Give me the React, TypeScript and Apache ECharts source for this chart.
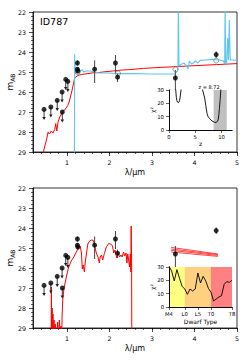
import React, { useEffect, useRef } from 'react';
import * as echarts from 'echarts';

// Photometry (shared by both panels)
const photLam = [0.46, 0.62, 0.77, 0.885, 0.89, 0.97, 1.02, 1.245, 1.245, 1.255, 1.65, 2.14, 2.19, 3.55, 4.51];
const photMag = [26.87, 26.75, 26.42, 26.0, 27.0, 25.37, 25.47, 24.55, 24.86, 24.95, 24.86, 24.55, 25.26, 25.3, 24.13];
const photBright = [0, 0, 0, 0, 0, 0, 0, 24.42, 24.76, 24.85, 24.42, 24.15, 25.08, 24.9, 23.97];
const photFaint = [0, 0, 0, 0, 0, 0, 0, 24.68, 24.96, 25.05, 25.55, 25.05, 25.5, 26.6, 24.3];
const photLimit = [1, 1, 1, 1, 1, 1, 1, 0, 0, 0, 0, 0, 0, 0, 0];

// Model photometry (open circles, top panel)
const modelLam = [1.25, 2.2, 3.55, 4.51];
const modelMag = [25.0, 25.07, 24.87, 24.43];

// Low-z galaxy SED (red, top)
const redLam = [0.44, 0.454, 0.517, 0.555, 0.59, 0.63, 0.67, 0.71, 0.735, 0.76, 0.79, 0.83, 0.87, 0.906, 0.946, 1.02, 1.05, 1.08, 1.12, 1.15, 1.18, 1.26, 1.35, 1.49, 1.65, 1.72, 1.84, 2.07, 2.3, 2.47, 2.8, 3.19, 3.5, 3.66, 4.13, 4.52, 5.0];
const redMag = [29.3, 28.9, 28.4, 28.0, 28.1, 27.95, 28.05, 27.88, 27.58, 27.95, 27.5, 27.25, 27.1, 26.95, 26.9, 26.67, 26.5, 26.25, 25.9, 25.6, 25.3, 25.17, 25.12, 25.08, 25.03, 25.04, 25.0, 24.95, 24.9, 24.88, 24.82, 24.77, 24.74, 24.72, 24.67, 24.63, 24.58];

// Best-fit z=8.72 SED (blue, top)
const blueLam = [1.175, 1.18, 1.19, 1.2, 1.22, 1.26, 1.31, 1.36, 1.39, 1.45, 1.55, 1.65, 1.78, 2.0, 2.17, 2.56, 2.95, 3.3, 3.54, 3.58, 3.61, 3.62, 3.635, 3.7, 3.75, 3.8, 3.85, 3.88, 3.93, 3.97, 4.02, 4.08, 4.13, 4.25, 4.44, 4.6, 4.68, 4.71, 4.72, 4.735, 4.76, 4.78, 4.8, 4.82, 4.84, 4.9, 5.0];
const blueMag = [29.5, 24.1, 24.1, 25.1, 25.0, 24.88, 24.95, 24.88, 25.0, 24.95, 24.95, 25.0, 25.05, 25.05, 25.08, 25.08, 25.1, 25.1, 25.1, 25.0, 24.9, 21.5, 24.7, 24.6, 24.55, 24.65, 24.85, 24.45, 24.6, 24.55, 24.45, 24.55, 24.42, 24.4, 24.37, 24.4, 24.45, 24.6, 21.5, 24.6, 24.5, 23.3, 24.4, 22.4, 24.4, 24.4, 24.42];

// Top inset chi^2 vs z
const chiZA = [1.25, 1.3, 1.4, 1.5, 1.6, 1.75, 1.9, 2.0, 2.1, 2.2, 2.3, 2.35];
const chiVA = [34, 29, 24.5, 22, 21, 20.5, 21, 22, 24, 27, 30.5, 34];
const chiZB = [6.3, 6.4, 6.6, 6.8, 7.0, 7.24, 7.45, 7.7, 8.2, 8.7, 9.0, 9.2, 9.36, 9.5, 9.6, 9.75, 9.87, 9.95];
const chiVB = [33, 30, 27, 24, 18.5, 12.5, 10, 8.75, 6.75, 5.75, 5.75, 6.3, 7.5, 11.5, 16, 23, 30, 34];
const zShade = [8.5, 11.0];
const zTicks = [0, 5, 10];

// Brown dwarf template (red, bottom)
const bdLam = [0.628, 0.632, 0.637, 0.642, 0.65, 0.66, 0.67, 0.68, 0.695, 0.71, 0.725, 0.74, 0.76, 0.78, 0.8, 0.82, 0.84, 0.86, 0.875, 0.885, 0.9, 0.93, 0.96, 1.0, 1.04, 1.1, 1.16, 1.22, 1.27, 1.31, 1.34, 1.36, 1.38, 1.41, 1.43, 1.45, 1.49, 1.52, 1.57, 1.62, 1.65, 1.69, 1.73, 1.76, 1.78, 1.81, 1.84, 1.88, 1.93, 1.98, 2.03, 2.07, 2.1, 2.13, 2.17, 2.2, 2.24, 2.27, 2.3, 2.33, 2.36, 2.39, 2.41, 2.43, 2.45, 2.47, 2.49, 2.5, 2.51, 2.52, 2.525];
const bdMag = [29.5, 26.95, 28.4, 29.5, 28.0, 29.5, 28.3, 29.5, 28.6, 29.5, 28.8, 29.5, 29.5, 28.7, 29.5, 28.6, 29.5, 28.9, 29.5, 28.4, 27.6, 27.0, 26.7, 26.3, 25.95, 25.65, 25.45, 25.2, 25.0, 24.9, 25.25, 26.05, 25.85, 26.2, 25.7, 25.4, 24.8, 24.68, 24.6, 24.62, 24.9, 25.25, 25.45, 25.75, 25.45, 25.35, 25.6, 25.27, 24.93, 24.78, 24.8, 24.9, 25.25, 25.1, 25.5, 25.25, 25.45, 25.35, 25.45, 25.2, 25.4, 25.25, 25.75, 25.3, 25.6, 25.95, 25.3, 26.2, 23.9, 25.5, 29.5];

// Brown dwarf IRAC model lines (bottom)
const fanLam = [3.45, 4.55];
const fanMags = [[24.97, 25.3], [25.05, 25.33], [25.12, 25.37], [25.2, 25.42]];

// Bottom inset chi^2 vs dwarf type
const dwarfIdx = [0, 1, 2, 3, 4, 5, 6, 7, 8, 9, 10, 11, 12, 13, 14, 15, 16, 17, 18, 19, 20, 21, 22, 23, 24];
const dwarfChi = [30.5, 27, 19.5, 28, 21.5, 15.5, 13.5, 9.5, 13.5, 12, 13.5, 25.5, 18, 23, 19.5, 14, 11, 4.5, 6, 7.5, 8.5, 17, 19, 18.5, 20];
const dwarfBands = [[0, 6], [6, 16], [16, 24]];
const dwarfTickIdx = [0, 6, 11, 16, 24];
const dwarfTickLabels = ['M4', 'L0', 'L5', 'T0', 'T8'];

const xMajor = [1, 2, 3, 4, 5];

const FONT = 'DejaVu Sans';
const BLACK = '#000';
const bandColors = ['#ffff80', '#ffd080', '#ff8080'];

function mainX(gridIndex: number) {
  return [
    {
      gridIndex, type: 'value', min: 0.2, max: 5, interval: 0.2,
      axisLine: { show: true, lineStyle: { color: BLACK, width: 0.8 } },
      axisTick: { show: true, length: 2, lineStyle: { color: BLACK, width: 0.6 } },
      axisLabel: { show: true, customValues: xMajor, margin: 7, fontSize: 6.3, color: BLACK, fontFamily: FONT },
      splitLine: { show: false },
      name: 'λ/μm', nameLocation: 'middle', nameGap: 16, nameMoveOverlap: false,
      nameTextStyle: { fontSize: 8, color: BLACK, fontFamily: FONT },
    },
    {
      gridIndex, type: 'value', min: 0.2, max: 5, position: 'bottom',
      axisLine: { show: false },
      axisTick: { show: true, customValues: xMajor, length: 4, lineStyle: { color: BLACK, width: 0.7 } },
      axisLabel: { show: false },
      splitLine: { show: false },
    },
  ];
}

function mainY(gridIndex: number) {
  return {
    gridIndex, type: 'value', min: 22, max: 29, interval: 1, inverse: true,
    axisLine: { show: true, lineStyle: { color: BLACK, width: 0.8 } },
    axisTick: { show: true, length: 4, lineStyle: { color: BLACK, width: 0.7 } },
    minorTick: { show: true, splitNumber: 5, length: 2, lineStyle: { color: BLACK, width: 0.6 } },
    axisLabel: { margin: 7, fontSize: 6.3, color: BLACK, fontFamily: FONT },
    splitLine: { show: false }, minorSplitLine: { show: false },
    name: '{a|m}{b|AB}', nameLocation: 'middle', nameGap: 18, nameRotate: 90, nameMoveOverlap: false,
    nameTextStyle: {
      rich: {
        a: { fontSize: 9, color: BLACK, fontFamily: FONT },
        b: { fontSize: 6, color: BLACK, fontFamily: FONT, verticalAlign: 'bottom', padding: [4, 0, 0, 0] },
      },
    },
  };
}

function insetX(gridIndex: number, extra: any) {
  return {
    gridIndex, type: 'value', z: 12,
    axisLine: { show: true, lineStyle: { color: BLACK, width: 0.8 } },
    axisTick: { show: true, length: 3, lineStyle: { color: BLACK, width: 0.6 } },
    axisLabel: { margin: 4, fontSize: 5.3, color: BLACK, fontFamily: FONT },
    splitLine: { show: false },
    nameLocation: 'middle', nameGap: 10.5, nameMoveOverlap: false,
    nameTextStyle: { fontSize: 6, color: BLACK, fontFamily: FONT },
    ...extra,
  };
}

function borderAxis(gridIndex: number, position: string, min: number, max: number) {
  return {
    gridIndex, type: 'value', position, min, max, z: 12,
    axisLine: { show: true, lineStyle: { color: BLACK, width: 0.8 } },
    axisTick: { show: false }, axisLabel: { show: false }, splitLine: { show: false },
  };
}

function insetY(gridIndex: number) {
  return {
    gridIndex, type: 'value', min: 0, max: 30, interval: 10, z: 12,
    axisLine: { show: true, lineStyle: { color: BLACK, width: 0.8 } },
    axisTick: { show: true, length: 3, lineStyle: { color: BLACK, width: 0.6 } },
    axisLabel: { margin: 5, fontSize: 5.3, color: BLACK, fontFamily: FONT },
    splitLine: { show: false },
    name: 'χ²', nameLocation: 'middle', nameGap: 14, nameRotate: 90, nameMoveOverlap: false,
    nameTextStyle: { fontSize: 6, color: BLACK, fontFamily: FONT },
  };
}

function errRender(params: any, api: any) {
  const x = api.value(0), y = api.value(1), lo = api.value(2), hi = api.value(3), lim = api.value(4);
  const p = api.coord([x, y]);
  if (lim) {
    const tip = p[1] + 10.5;
    return {
      type: 'group',
      children: [
        { type: 'line', shape: { x1: p[0], y1: p[1], x2: p[0], y2: tip - 1.5 }, style: { stroke: '#222', lineWidth: 0.9 } },
        { type: 'polygon', shape: { points: [[p[0] - 1.7, tip - 3], [p[0] + 1.7, tip - 3], [p[0], tip]] }, style: { fill: '#222' } },
      ],
    };
  }
  const a = api.coord([x, lo]);
  const b = api.coord([x, hi]);
  return { type: 'line', shape: { x1: a[0], y1: a[1], x2: b[0], y2: b[1] }, style: { stroke: '#444', lineWidth: 1 } };
}

function bandRender(ymin: number, ymax: number, colors: string[]) {
  return (params: any, api: any) => {
    const p0 = api.coord([api.value(0), ymax]);
    const p1 = api.coord([api.value(1), ymin]);
    return {
      type: 'rect',
      shape: { x: p0[0], y: p0[1], width: p1[0] - p0[0], height: p1[1] - p0[1] },
      style: { fill: colors[params.dataIndex % colors.length] },
    };
  };
}

const zip = (a: number[], b: number[]) => a.map((v, i) => [v, b[i]]);
const errData = photLam.map((l, i) => [l, photMag[i], photBright[i], photFaint[i], photLimit[i]]);

function buildOption() {
  const series: any[] = [];
  // ---- top main ----
  series.push({ type: 'line', xAxisIndex: 0, yAxisIndex: 0, data: zip(redLam, redMag), showSymbol: false, symbol: 'none', lineStyle: { color: '#ff0000', width: 1 }, z: 2 });
  series.push({ type: 'line', xAxisIndex: 0, yAxisIndex: 0, data: zip(blueLam, blueMag), showSymbol: false, symbol: 'none', lineStyle: { color: '#5cc8f2', width: 1.1 }, z: 3 });
  series.push({ type: 'custom', xAxisIndex: 0, yAxisIndex: 0, data: errData, renderItem: errRender, encode: { x: 0, y: 1 }, clip: false, z: 4 });
  series.push({ type: 'scatter', xAxisIndex: 0, yAxisIndex: 0, data: zip(modelLam, modelMag), symbol: 'circle', symbolSize: 5, itemStyle: { color: 'rgba(255,255,255,0)', borderColor: '#777', borderWidth: 0.9 }, z: 4 });
  series.push({ type: 'scatter', xAxisIndex: 0, yAxisIndex: 0, data: zip(photLam, photMag), symbol: 'circle', symbolSize: 5, itemStyle: { color: '#000' }, z: 5 });
  // ---- top inset ----
  series.push({ type: 'custom', xAxisIndex: 2, yAxisIndex: 1, data: [zShade], renderItem: bandRender(0, 30, ['#c0c0c0']), encode: { x: [0, 1] }, z: 11 });
  series.push({ type: 'line', xAxisIndex: 2, yAxisIndex: 1, data: zip(chiZA, chiVA), symbol: 'none', lineStyle: { color: '#000', width: 0.9 }, z: 13 });
  series.push({ type: 'line', xAxisIndex: 2, yAxisIndex: 1, data: zip(chiZB, chiVB), symbol: 'none', lineStyle: { color: '#000', width: 0.9 }, z: 13 });
  // ---- bottom main ----
  series.push({ type: 'line', xAxisIndex: 4, yAxisIndex: 3, data: zip(bdLam, bdMag), symbol: 'none', lineStyle: { color: '#ff0000', width: 1 }, z: 2 });
  fanMags.forEach((m) => {
    series.push({ type: 'line', xAxisIndex: 4, yAxisIndex: 3, data: zip(fanLam, m), symbol: 'none', lineStyle: { color: '#ff3030', width: 0.9 }, z: 2 });
  });
  series.push({ type: 'custom', xAxisIndex: 4, yAxisIndex: 3, data: errData, renderItem: errRender, encode: { x: 0, y: 1 }, clip: false, z: 4 });
  series.push({ type: 'scatter', xAxisIndex: 4, yAxisIndex: 3, data: zip(photLam, photMag), symbol: 'circle', symbolSize: 5, itemStyle: { color: '#000' }, z: 5 });
  // ---- bottom inset ----
  series.push({ type: 'custom', xAxisIndex: 6, yAxisIndex: 4, data: dwarfBands, renderItem: bandRender(0, 30, bandColors), encode: { x: [0, 1] }, z: 11 });
  series.push({ type: 'line', xAxisIndex: 6, yAxisIndex: 4, data: zip(dwarfIdx, dwarfChi), symbol: 'none', lineStyle: { color: '#000', width: 0.9 }, z: 13 });

  return {
    animation: false,
    backgroundColor: '#fff',
    textStyle: { fontFamily: FONT },
    grid: [
      { left: 33, top: 12, width: 204, height: 140, show: true, borderColor: BLACK, borderWidth: 0.8, backgroundColor: 'transparent', outerBoundsMode: 'none' },
      { left: 169, top: 90, width: 63, height: 40, show: true, borderWidth: 0, backgroundColor: '#fff', z: 10, outerBoundsMode: 'none' },
      { left: 33, top: 188, width: 204, height: 140, show: true, borderColor: BLACK, borderWidth: 0.8, backgroundColor: 'transparent', outerBoundsMode: 'none' },
      { left: 169, top: 267, width: 63, height: 40, show: true, borderWidth: 0, backgroundColor: '#fff', z: 10, outerBoundsMode: 'none' },
    ],
    xAxis: [
      ...mainX(0),
      insetX(1, {
        min: 0, max: 12, name: 'z',
        axisTick: { show: true, customValues: zTicks, length: 3, lineStyle: { color: BLACK, width: 0.6 } },
        axisLabel: { customValues: zTicks, margin: 4, fontSize: 5.3, color: BLACK, fontFamily: FONT },
      }),
      borderAxis(1, 'top', 0, 12),
      ...mainX(2),
      insetX(3, {
        min: 0, max: 24, name: 'Dwarf Type', nameGap: 11,
        axisTick: { show: true, customValues: dwarfTickIdx, length: 3, lineStyle: { color: BLACK, width: 0.6 } },
        axisLabel: {
          customValues: dwarfTickIdx, margin: 4, fontSize: 5.3, color: BLACK, fontFamily: FONT,
          formatter: (v: number) => dwarfTickLabels[dwarfTickIdx.indexOf(v)] ?? '',
        },
      }),
      borderAxis(3, 'top', 0, 24),
    ],
    yAxis: [
      mainY(0),
      insetY(1),
      borderAxis(1, 'right', 0, 30),
      mainY(2),
      insetY(3),
      borderAxis(3, 'right', 0, 30),
    ],
    graphic: [
      { type: 'text', left: 40, top: 16, z: 20, style: { text: 'ID787', fontSize: 9.5, fontFamily: FONT, fill: BLACK } },
      { type: 'text', x: 209, y: 87, z: 20, style: { text: 'z = 8.72', fontSize: 5, fontFamily: FONT, fill: BLACK, align: 'center', verticalAlign: 'middle' } },
    ],
    series,
  };
}

export default function App() {
  const ref = useRef<HTMLDivElement>(null);
  useEffect(() => {
    const chart = echarts.init(ref.current!, undefined, { renderer: 'svg' });
    chart.setOption(buildOption() as any);
    return () => chart.dispose();
  }, []);
  return <div ref={ref} style={{ position: 'fixed', left: 0, top: 0, width: 249, height: 362 }} />;
}
